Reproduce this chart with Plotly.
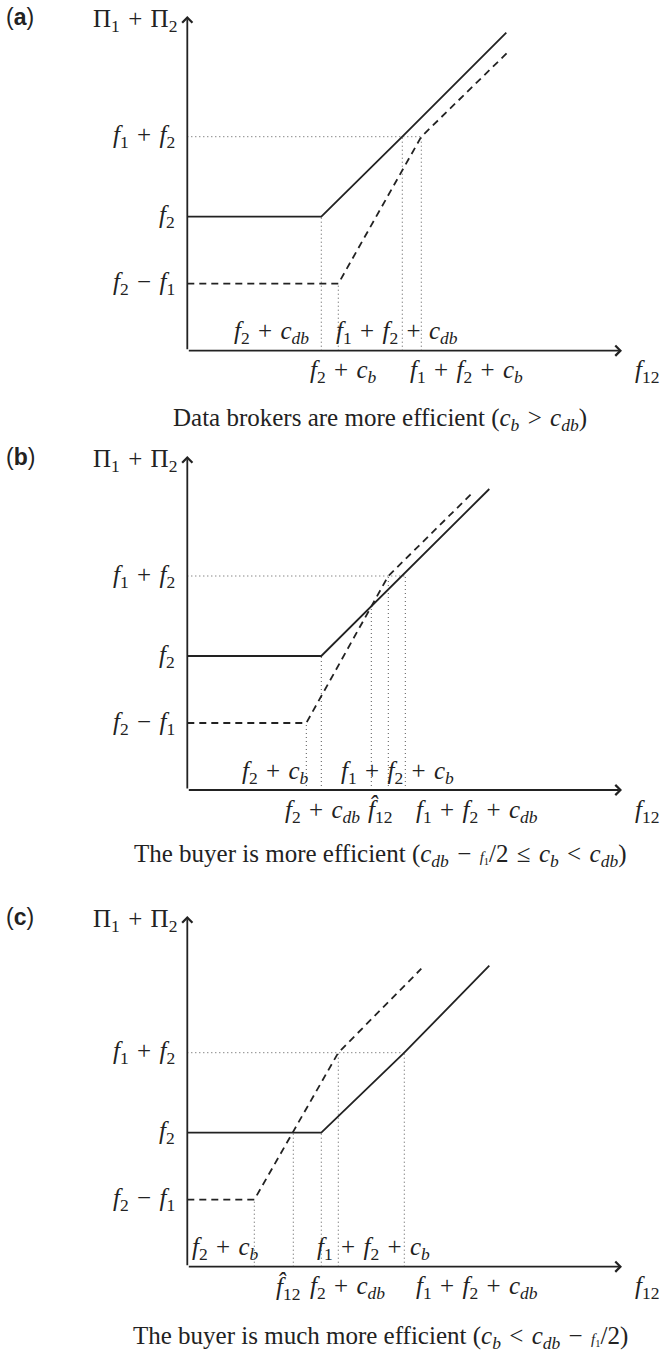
import plotly.graph_objects as go

# chart units: origin at the corner of the axes, 1 unit ~ 1 px

# (a) data brokers are more efficient
a_solid_x = [0, 134, 216, 319]
a_solid_y = [134, 134, 215, 318]
a_dash_x = [0, 151, 234, 320]
a_dash_y = [67, 67, 214, 298]
a_guide_x = [134, 151, 215, 234]
a_guide_y = [134, 67, 214, 214]

# (b) the buyer is more efficient
b_solid_x = [0, 134, 302]
b_solid_y = [134, 134, 301]
b_dash_x = [0, 119, 201, 285]
b_dash_y = [67, 67, 214, 297]
b_guide_x = [119, 134, 184, 201, 218]
b_guide_y = [67, 134, 184, 214, 214]

# (c) the buyer is much more efficient
c_solid_x = [0, 134, 217, 302]
c_solid_y = [134, 134, 214, 301]
c_dash_x = [0, 67, 151, 234]
c_dash_y = [67, 67, 214, 298]
c_guide_x = [67, 106, 134, 151, 217]
c_guide_y = [67, 134, 134, 214, 214]

SP = '\u2004'   # math-like spacing around binary operators

def f(i):
  return '<i>f</i><sub>' + i + '</sub>'

def c(i):
  return '<i>c</i><sub><i>' + i + '</i></sub>'

def op(s):
  return SP + s + SP

y_tick_vals = [67, 134, 214]
y_tick_text = [f('2') + op('−') + f('1'), f('2'), f('1') + op('+') + f('2')]

F2CDB = f('2') + op('+') + c('db')
F2CB = f('2') + op('+') + c('b')
F12CDB = f('1') + op('+') + f('2') + op('+') + c('db')
F12CB = f('1') + op('+') + f('2') + op('+') + c('b')
FHAT = '<i>f\u0302</i><sub>12</sub>'

y_title = 'Π<sub>1</sub>' + op('+') + 'Π<sub>2</sub>'
x_title = f('12')

HALF = '<span style="font-size:15px"><i>f</i><sub>1</sub></span>/2'
captions = [
  'Data brokers are more efficient (' + c('b') + op('&gt;') + c('db') + ')',
  'The buyer is more efficient (' + c('db') + op('−') + HALF + op('≤') + c('b') + op('&lt;') + c('db') + ')',
  'The buyer is much more efficient (' + c('b') + op('&lt;') + c('db') + op('−') + HALF + ')',
]
panel_tags = ['(<b>a</b>)', '(<b>b</b>)', '(<b>c</b>)']

W, H = 666, 1354
SERIF = 'Liberation Serif'
INK = '#222222'
FS = 25

# pixel bands for each panel and the pixel row of the x axis
bands = [(0, 440, 350.7), (440, 900, 790), (900, 1354, 1266.7)]
X0 = 187.3   # pixel column of the y axis

fig = go.Figure()

panels = [
  (a_solid_x, a_solid_y, a_dash_x, a_dash_y, a_guide_x, a_guide_y),
  (b_solid_x, b_solid_y, b_dash_x, b_dash_y, b_guide_x, b_guide_y),
  (c_solid_x, c_solid_y, c_dash_x, c_dash_y, c_guide_x, c_guide_y),
]

# x labels: (text, x, row, xanchor) row +1 above the axis, -1 below
xlabels = [
  [(F2CDB, 124, 1, 'right'), (F12CDB, 210, 1, 'center'),
   (F2CB, 156, -1, 'center'), (F12CB, 279, -1, 'center')],
  [(F2CB, 124, 1, 'right'), (F12CB, 210, 1, 'center'),
   (F2CDB, 135, -1, 'center'), (FHAT, 193, -1, 'center'), (F12CDB, 290, -1, 'center')],
  [(F2CB, 74, 1, 'right'), (F12CB, 186, 1, 'center'),
   (FHAT, 101, -1, 'center'), (F2CDB, 160, -1, 'center'), (F12CDB, 290, -1, 'center')],
]
cap_y = [-69, -65, -71]

annotations = []
for i, (sx, sy, dx, dy, gx, gy) in enumerate(panels):
  top, bottom, axis_row = bands[i]
  n = '' if i == 0 else str(i + 1)
  xa, ya = 'x' + n, 'y' + n

  fig.layout['xaxis' + n] = dict(domain=[0, 1], range=[-X0, W - X0], visible=False, fixedrange=True)
  fig.layout['yaxis' + n] = dict(domain=[1 - bottom / H, 1 - top / H],
                                 range=[axis_row - bottom, axis_row - top],
                                 visible=False, fixedrange=True)

  # dotted guides
  vx, vy = [], []
  for x, y in zip(gx, gy):
    vx += [x, x, None]
    vy += [0, y, None]
  vx += [0, max(gx)]
  vy += [y_tick_vals[2], y_tick_vals[2]]
  fig.add_trace(go.Scatter(x=vx, y=vy, mode='lines', xaxis=xa, yaxis=ya,
                           line=dict(color='#555555', width=1, dash='1px,3px'),
                           hoverinfo='skip', showlegend=False))

  fig.add_trace(go.Scatter(x=dx, y=dy, mode='lines', xaxis=xa, yaxis=ya,
                           line=dict(color=INK, width=1.8, dash='7px,5px'),
                           hoverinfo='skip', showlegend=False))
  fig.add_trace(go.Scatter(x=sx, y=sy, mode='lines', xaxis=xa, yaxis=ya,
                           line=dict(color=INK, width=1.8),
                           hoverinfo='skip', showlegend=False))

  ytop = axis_row - top - 16
  xend = 622 - X0

  # axes with arrows
  for tx, ty in [(xend, 0), (0, ytop)]:
    annotations.append(dict(x=tx, y=ty, ax=0, ay=0, xref=xa, yref=ya, axref=xa, ayref=ya,
                            text='', showarrow=True, arrowhead=4, arrowsize=1.1,
                            arrowwidth=1.8, arrowcolor=INK))

  font = dict(family=SERIF, size=FS, color=INK)
  annotations.append(dict(x=0, y=ytop - 4, xref=xa, yref=ya, text=y_title, showarrow=False,
                          xanchor='right', xshift=-8, font=font))
  annotations.append(dict(x=xend + 11, y=-21, xref=xa, yref=ya, text=x_title, showarrow=False,
                          xanchor='left', font=font))
  for v, t in zip(y_tick_vals, y_tick_text):
    annotations.append(dict(x=0, y=v, xref=xa, yref=ya, text=t, showarrow=False,
                            xanchor='right', xshift=-10, font=font))
  for t, x, row, anc in xlabels[i]:
    annotations.append(dict(x=x, y=18 if row > 0 else -21, xref=xa, yref=ya, text=t,
                            showarrow=False, xanchor=anc, font=font))
  annotations.append(dict(x=193, y=cap_y[i], xref=xa, yref=ya, text=captions[i],
                          showarrow=False, xanchor='center', font=font))
  annotations.append(dict(x=4 / W, y=1 - (top + 17) / H, xref='paper', yref='paper',
                          text=panel_tags[i], showarrow=False, xanchor='left', yanchor='middle',
                          font=dict(family='Liberation Sans', size=23, color=INK)))

fig.update_layout(
  width=W, height=H,
  margin=dict(l=0, r=0, t=0, b=0),
  plot_bgcolor='white', paper_bgcolor='white',
  annotations=annotations,
)

# the page body has a default 8px margin; drop it so the figure fills the window
fig.write_html('out.html', config={'displayModeBar': False},
               post_script="document.body.style.margin='0';")
